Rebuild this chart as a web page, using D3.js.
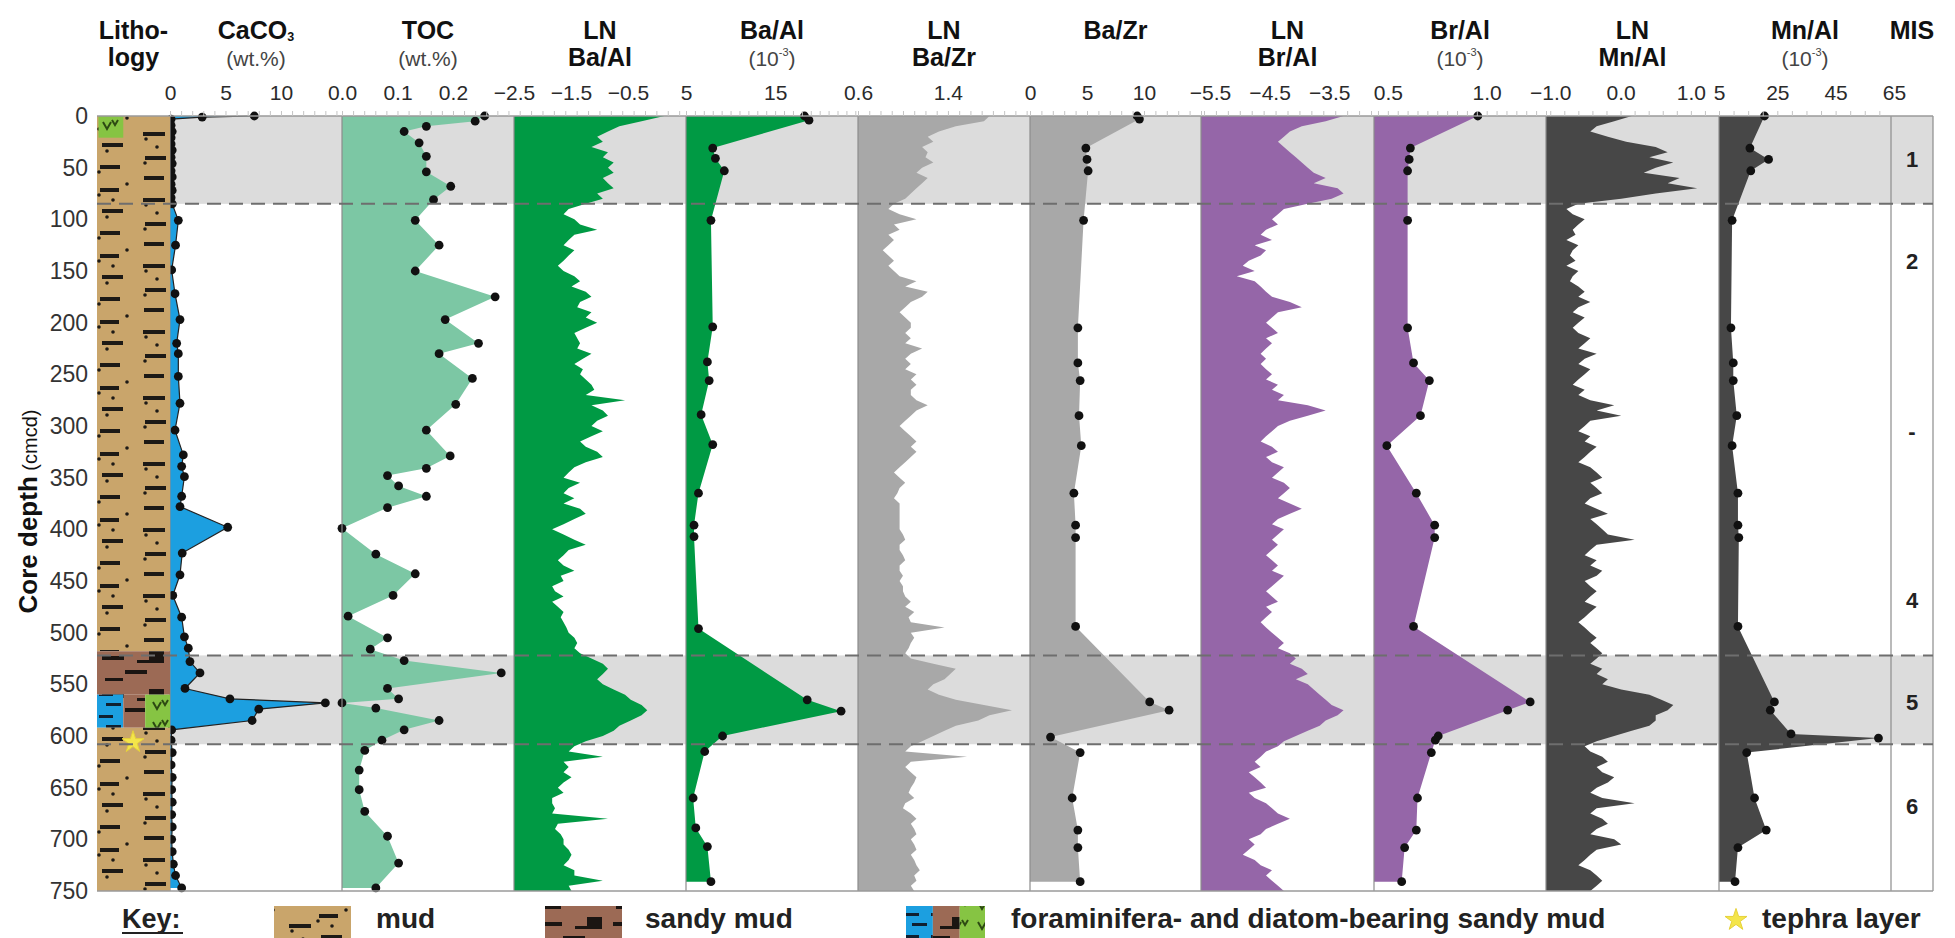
<!DOCTYPE html>
<html><head><meta charset="utf-8">
<script src="https://cdn.jsdelivr.net/npm/d3@7"></script>
<style>
html,body{margin:0;padding:0;background:#fff;}
svg{display:block;font-family:"Liberation Sans",Arial,Helvetica,sans-serif;}
</style></head><body>
<svg id="chart" width="1955" height="938"></svg>
<script>
// ---------- data ----------
// XRF core-scanner profiles, one value every 5 cm (0–750 cmcd)
const scanDepth = d3.range(0, 751, 5);
const lnBaAl = [
 0.14,-0.26,-0.65,-0.85,-1.04,-0.94,-1.14,-0.85,-0.94,-0.75,
 -0.85,-0.75,-0.94,-0.85,-0.75,-1.04,-0.94,-1.24,-1.54,-1.63,
 -1.44,-1.34,-1.04,-1.44,-1.54,-1.63,-1.44,-1.54,-1.63,-1.73,
 -1.63,-1.44,-1.34,-1.49,-1.24,-1.14,-1.34,-1.39,-1.14,-1.24,
 -1.04,-1.24,-1.44,-1.39,-1.34,-1.39,-1.14,-1.29,-1.44,-1.29,
 -1.34,-1.24,-1.14,-1.09,-1.24,-0.55,-1.14,-0.94,-0.85,-1.04,
 -1.14,-0.94,-1.14,-1.34,-1.24,-1.04,-0.94,-1.24,-1.44,-1.54,
 -1.63,-1.34,-1.54,-1.63,-1.44,-1.63,-1.34,-1.24,-1.44,-1.63,
 -1.83,-1.63,-1.44,-1.24,-1.54,-1.63,-1.73,-1.63,-1.44,-1.68,
 -1.63,-1.83,-1.78,-1.63,-1.83,-1.73,-1.63,-1.68,-1.63,-1.58,
 -1.54,-1.44,-1.39,-1.44,-1.34,-1.14,-0.94,-0.85,-0.94,-1.04,
 -0.94,-0.75,-0.55,-0.45,-0.26,-0.16,-0.26,-0.45,-0.65,-0.75,
 -0.94,-1.24,-1.44,-1.54,-0.94,-1.63,-1.54,-1.63,-1.49,-1.63,
 -1.73,-1.63,-1.83,-1.83,-1.78,-1.83,-0.85,-1.73,-1.78,-1.68,
 -1.63,-1.63,-1.54,-1.49,-1.54,-1.63,-1.44,-1.44,-0.94,-1.54,
 -1.49];
const lnBaZr = [
 1.77,1.72,1.47,1.32,1.22,1.27,1.17,1.22,1.20,1.27,
 1.17,1.12,1.22,1.17,1.12,1.07,1.02,0.92,0.87,0.97,
 1.12,0.92,0.97,0.87,0.92,0.87,0.82,0.87,0.92,0.87,
 0.92,0.97,1.12,1.02,1.22,1.17,1.07,1.02,0.97,1.02,
 1.07,1.07,1.02,1.07,1.02,1.17,1.07,1.02,1.07,1.02,
 1.12,1.07,1.12,1.07,1.07,1.12,1.22,1.12,1.07,1.02,
 0.97,1.02,1.07,1.12,1.07,1.12,1.07,1.02,0.97,0.92,
 0.97,1.02,0.97,0.95,0.92,0.97,0.97,0.97,0.97,0.97,
 0.97,1.00,1.02,0.97,0.97,1.00,1.02,0.97,0.97,1.00,
 0.97,1.00,1.00,1.02,1.07,1.02,1.10,1.05,1.07,1.37,
 1.07,1.10,1.07,1.05,1.02,1.07,1.27,1.47,1.42,1.37,
 1.27,1.22,1.32,1.47,1.72,1.97,1.77,1.67,1.47,1.37,
 1.27,1.17,1.07,1.02,1.57,1.07,1.02,1.07,1.12,1.10,
 1.07,1.05,1.10,1.02,1.00,1.07,1.12,1.07,1.10,1.12,
 1.07,1.10,1.12,1.07,1.10,1.12,1.15,1.10,1.12,1.07,
 1.10];
const lnBrAl = [
 -3.26,-3.56,-3.96,-4.16,-4.26,-4.36,-4.26,-4.16,-4.06,-3.96,
 -3.86,-3.76,-3.56,-3.76,-3.36,-3.26,-3.46,-3.86,-4.26,-4.36,
 -4.46,-4.36,-4.56,-4.65,-4.46,-4.75,-4.56,-4.65,-4.85,-4.95,
 -4.75,-5.05,-4.75,-4.65,-4.56,-4.46,-4.16,-3.96,-4.36,-4.46,
 -4.56,-4.46,-4.36,-4.56,-4.46,-4.56,-4.65,-4.56,-4.65,-4.56,
 -4.46,-4.56,-4.36,-4.46,-4.26,-4.36,-3.86,-3.56,-3.86,-4.16,
 -4.36,-4.46,-4.56,-4.65,-4.46,-4.36,-4.56,-4.46,-4.26,-4.36,
 -4.46,-4.26,-4.16,-4.26,-4.36,-4.16,-3.96,-4.16,-4.36,-4.46,
 -4.26,-4.36,-4.46,-4.36,-4.46,-4.56,-4.46,-4.36,-4.46,-4.26,
 -4.36,-4.46,-4.56,-4.46,-4.36,-4.56,-4.46,-4.56,-4.65,-4.56,
 -4.46,-4.36,-4.26,-4.36,-4.16,-4.06,-4.16,-3.96,-3.86,-4.06,
 -3.86,-3.76,-3.66,-3.56,-3.46,-3.26,-3.36,-3.56,-3.66,-3.86,
 -4.06,-4.26,-4.36,-4.56,-4.65,-4.75,-4.65,-4.85,-4.75,-4.65,
 -4.56,-4.85,-4.75,-4.56,-4.46,-4.36,-4.16,-4.36,-4.56,-4.65,
 -4.85,-4.75,-4.85,-4.95,-4.75,-4.65,-4.46,-4.56,-4.46,-4.36,
 -4.26];
const lnMnAl = [
 0.16,-0.09,-0.34,-0.43,-0.18,0.08,0.50,0.67,0.41,0.75,
 0.50,0.33,0.84,0.67,1.09,0.50,0.01,-0.60,-0.77,-0.68,
 -0.51,-0.60,-0.68,-0.64,-0.77,-0.60,-0.68,-0.72,-0.64,-0.77,
 -0.60,-0.68,-0.72,-0.60,-0.51,-0.60,-0.43,-0.60,-0.68,-0.51,
 -0.60,-0.68,-0.60,-0.43,-0.51,-0.60,-0.34,-0.51,-0.60,-0.43,
 -0.51,-0.60,-0.68,-0.51,-0.60,-0.43,-0.09,-0.34,0.01,-0.43,
 -0.51,-0.60,-0.43,-0.51,-0.34,-0.43,-0.51,-0.60,-0.43,-0.34,
 -0.26,-0.43,-0.34,-0.26,-0.43,-0.51,-0.34,-0.18,-0.43,-0.34,
 -0.26,-0.18,0.20,-0.34,-0.43,-0.51,-0.34,-0.43,-0.26,-0.34,
 -0.51,-0.43,-0.34,-0.43,-0.51,-0.34,-0.43,-0.51,-0.60,-0.51,
 -0.43,-0.34,-0.43,-0.34,-0.26,-0.34,-0.43,-0.26,-0.34,-0.18,
 -0.26,0.01,0.41,0.58,0.75,0.67,0.50,0.50,0.41,0.16,
 -0.09,-0.34,-0.51,-0.43,-0.26,-0.18,-0.34,-0.26,-0.09,-0.18,
 -0.34,-0.43,-0.26,0.20,-0.34,-0.43,-0.26,-0.18,-0.34,-0.43,
 -0.09,0.01,-0.34,-0.43,-0.51,-0.60,-0.43,-0.34,-0.26,-0.34,
 -0.43];

// discrete samples: [depth (cmcd), value]
const caco3 = [[0,7.6],[1,2.9],[3,0.1],[9,0.1],[15,0.2],[21,0.1],[27,0.1],[33,0.2],[40,0.1],[46,0.2],
 [53,0.1],[59,0.2],[66,0.1],[72,0.2],[79,0.1],[85,0.2],[101,0.75],[125,0.5],[149,0.15],[172,0.45],
 [197,0.9],[220,0.6],[230,0.75],[252,0.75],[278,0.9],[304,0.45],[328,1.2],[339,1.05],[349,1.3],[368,1.05],
 [378,0.9],[398,5.2],[423,1.1],[444,0.9],[464,0.25],[485,1.05],[504,1.3],[515,1.65],[528,1.8],[539,2.7],
 [554,1.35],[564,5.4],[568,14.0],[574,8.0],[585,7.4],[594,0.15],[604,0.1],[616,0.2],[628,0.1],[640,0.2],
 [652,0.15],[664,0.2],[676,0.15],[688,0.2],[700,0.15],[712,0.2],[724,0.3],[735,0.5],[747,1.05]];
const toc = [[0,0.257],[5,0.240],[10,0.152],[15,0.112],[26,0.139],[39,0.152],[54,0.152],[68,0.196],[81,0.165],
 [101,0.132],[125,0.175],[150,0.132],[175,0.276],[197,0.186],[220,0.246],[230,0.175],[254,0.235],[279,0.205],
 [304,0.152],[329,0.195],[341,0.152],[348,0.082],[358,0.102],[368,0.152],[379,0.082],[399,0.0],[424,0.061],
 [443,0.132],[464,0.092],[484,0.011],[505,0.082],[516,0.051],[527,0.112],[539,0.287],[554,0.082],[564,0.102],
 [568,0.0],[573,0.061],[585,0.175],[594,0.112],[604,0.072],[614,0.041],[633,0.031],[652,0.031],[673,0.041],
 [697,0.082],[723,0.102],[747,0.061]];
const baAl = [[0,18.3],[4,18.8],[31,8.0],[41,8.3],[53,9.3],[101,7.8],[204,8.0],[238,7.4],[256,7.6],[289,6.7],
 [318,8.0],[365,6.4],[396,5.9],[407,5.9],[496,6.4],[565,18.6],[576,22.4],[600,9.1],[615,7.1],[660,5.8],
 [689,6.1],[707,7.4],[741,7.8]];
const baZr = [[0,9.4],[3,9.6],[31,4.9],[42,5.0],[53,5.1],[101,4.7],[205,4.2],[239,4.2],[256,4.4],[290,4.3],
 [319,4.5],[365,3.85],[396,4.0],[408,4.0],[494,4.0],[567,10.5],[575,12.2],[601,1.8],[616,4.4],[660,3.7],
 [691,4.2],[708,4.2],[741,4.4]];
const brAl = [[0,0.955],[31,0.614],[42,0.608],[53,0.60],[101,0.60],[205,0.60],[239,0.63],[256,0.71],[290,0.665],
 [319,0.495],[365,0.644],[396,0.737],[408,0.737],[494,0.63],[567,1.22],[575,1.106],[600,0.755],[604,0.74],
 [616,0.72],[660,0.65],[691,0.644],[708,0.585],[741,0.57]];
const mnAl = [[0,20.6],[31,15.6],[42,22.0],[53,15.9],[101,9.5],[205,9.1],[239,9.9],[256,9.9],[290,11.1],
 [319,9.5],[365,11.5],[396,11.5],[408,11.8],[494,11.5],[567,24.0],[575,22.6],[598,29.7],[602,59.7],[616,14.5],
 [660,17.2],[691,21.2],[708,11.5],[741,10.5]];

// tick labels of each panel
const ticksCaCO3 = [0, 5, 10];
const ticksTOC = [0.0, 0.1, 0.2];
const ticksLnBaAl = [-2.5, -1.5, -0.5];
const ticksBaAl = [5, 15];
const ticksLnBaZr = [0.6, 1.4];
const ticksBaZr = [0, 5, 10];
const ticksLnBrAl = [-5.5, -4.5, -3.5];
const ticksBrAl = [0.5, 1.0];
const ticksLnMnAl = [-1.0, 0.0, 1.0];
const ticksMnAl = [5, 25, 45, 65];
const depthTicks = d3.range(0, 751, 50);

// marine isotope stages and shaded intervals (cmcd)
const misLabels = [["1", 42], ["2", 140], ["-", 305], ["4", 468], ["5", 567], ["6", 668]];
const shadedIntervals = [[0, 85], [522, 608]];
const boundaries = [85, 522, 608];

// lithology units: [top, bottom, type, left fraction, right fraction]
const lithoUnits = [
 [0, 518, "mud", 0, 1],
 [0, 21, "diatom", 0.02, 0.36],
 [518, 560, "sandy", 0, 1],
 [560, 592, "foram", 0, 0.36],
 [560, 592, "sandy", 0.36, 0.66],
 [560, 592, "diatom", 0.66, 1],
 [592, 750, "mud", 0, 1]
];
const tephraDepth = 606;

// ---------- layout ----------
const svg = d3.select("#chart");
const y = d3.scaleLinear().domain([0, 750]).range([116, 891]);
const LITHO = [97, 170];
const RIGHT = 1933;

const C = {
  tan: "#c9a56b", brown: "#9c6a55", blue: "#1c9fe0", diatom: "#86c443",
  toc: "#7cc7a4", green: "#009a44", grey: "#a8a8a8", purple: "#9566a8",
  dark: "#474747", band: "#dcdcdc"
};

const panels = [
 {x0:170, x1:342, domain:[0,15.5], ticks:ticksCaCO3, fmt:d3.format("d"), color:C.blue, pts:caco3,
  t1:["CaCO", "3"], t2:"(wt.%)"},
 {x0:342, x1:514, domain:[0,0.31], ticks:ticksTOC, fmt:d3.format(".1f"), color:C.toc, pts:toc,
  t1:["TOC"], t2:"(wt.%)"},
 {x0:514, x1:686, domain:[-2.5,0.52], ticks:ticksLnBaAl, fmt:d3.format(".1f"), color:C.green, scan:lnBaAl,
  t1:["LN"], t2b:"Ba/Al"},
 {x0:686, x1:858, domain:[5,24.3], ticks:ticksBaAl, fmt:d3.format("d"), color:C.green, pts:baAl,
  t1:["Ba/Al"], t2:"exp"},
 {x0:858, x1:1030, domain:[0.6,2.13], ticks:ticksLnBaZr, fmt:d3.format(".1f"), color:C.grey, scan:lnBaZr,
  t1:["LN"], t2b:"Ba/Zr"},
 {x0:1030, x1:1201, domain:[0,15], ticks:ticksBaZr, fmt:d3.format("d"), color:C.grey, pts:baZr,
  t1:["Ba/Zr"]},
 {x0:1201, x1:1374, domain:[-5.65,-2.75], ticks:ticksLnBrAl, fmt:d3.format(".1f"), color:C.purple, scan:lnBrAl,
  t1:["LN"], t2b:"Br/Al"},
 {x0:1374, x1:1546, domain:[0.43,1.30], ticks:ticksBrAl, fmt:d3.format(".1f"), color:C.purple, pts:brAl,
  t1:["Br/Al"], t2:"exp"},
 {x0:1546, x1:1719, domain:[-1.06,1.40], ticks:ticksLnMnAl, fmt:d3.format(".1f"), color:C.dark, scan:lnMnAl,
  t1:["LN"], t2b:"Mn/Al"},
 {x0:1719, x1:1891, domain:[5,64], ticks:ticksMnAl, fmt:d3.format("d"), color:C.dark, pts:mnAl,
  t1:["Mn/Al"], t2:"exp"}
];
panels.forEach(p => { p.x = d3.scaleLinear().domain(p.domain).range([p.x0, p.x1]); });

// ---------- patterns ----------
const defs = svg.append("defs");
function dashes(pat, list, fill) {
  list.forEach(([x, yy, w, h]) => pat.append("rect").attr("x", x).attr("y", yy).attr("width", w).attr("height", h).attr("fill", fill));
}
function dots(pat, list, fill) {
  list.forEach(([x, yy]) => pat.append("circle").attr("cx", x).attr("cy", yy).attr("r", 1.8).attr("fill", fill));
}
const pMud = defs.append("pattern").attr("id", "pat-mud").attr("patternUnits", "userSpaceOnUse")
  .attr("x", 97).attr("y", 116).attr("width", 73).attr("height", 66);
pMud.append("rect").attr("width", 73).attr("height", 66).attr("fill", C.tan);
dashes(pMud, [[3,6,19,4],[5,27,21,4],[3,49,20,4],[46,16,22,4],[48,40,21,4],[47,60,20,4]], "#1d1a16");
dots(pMud, [[2,13],[10,35],[2,56],[49,23],[48,47],[30,2],[60,31],[16,18]], "#1d1a16");

const pSandy = defs.append("pattern").attr("id", "pat-sandy").attr("patternUnits", "userSpaceOnUse")
  .attr("x", 97).attr("y", 116).attr("width", 73).attr("height", 38);
pSandy.append("rect").attr("width", 73).attr("height", 38).attr("fill", C.brown);
dashes(pSandy, [[5,8,22,4],[28,22,22,4],[8,30,18,3],[52,3,15,12],[40,12,12,3]], "#1b1512");

const pForam = defs.append("pattern").attr("id", "pat-foram").attr("patternUnits", "userSpaceOnUse")
  .attr("x", 97).attr("y", 116).attr("width", 26).attr("height", 22);
pForam.append("rect").attr("width", 26).attr("height", 22).attr("fill", C.blue);
dashes(pForam, [[2,5,14,3],[9,15,15,3]], "#102030");

const pDiatom = defs.append("pattern").attr("id", "pat-diatom").attr("patternUnits", "userSpaceOnUse")
  .attr("x", 97).attr("y", 116).attr("width", 25).attr("height", 20);
pDiatom.append("rect").attr("width", 25).attr("height", 20).attr("fill", C.diatom);
pDiatom.append("path").attr("d", "M6,6 L10,13 L14,6 M15,4 L18,9 L21,4").attr("fill", "none")
  .attr("stroke", "#2d4a12").attr("stroke-width", 2);

const patFor = {mud: "url(#pat-mud)", sandy: "url(#pat-sandy)", foram: "url(#pat-foram)", diatom: "url(#pat-diatom)"};

// ---------- shaded intervals ----------
svg.append("g").selectAll("rect").data(shadedIntervals).join("rect")
  .attr("x", LITHO[1]).attr("width", RIGHT - LITHO[1])
  .attr("y", d => y(d[0])).attr("height", d => y(d[1]) - y(d[0]))
  .attr("fill", C.band);

// ---------- profiles ----------
const gPlots = svg.append("g");
panels.forEach(p => {
  const data = p.scan ? scanDepth.map((d, i) => [d, p.scan[i]]) : p.pts;
  const area = d3.area().y(d => y(d[0])).x0(p.x(p.domain[0])).x1(d => p.x(d[1]));
  gPlots.append("path").datum(data).attr("d", area).attr("fill", p.color);
  if (p.pts) {
    if (p.pts === caco3) {
      gPlots.append("path").datum(data).attr("fill", "none").attr("stroke", "#222").attr("stroke-width", 1.2)
        .attr("d", d3.line().y(d => y(d[0])).x(d => p.x(d[1])));
    }
    gPlots.append("g").selectAll("circle").data(data).join("circle")
      .attr("cx", d => p.x(d[1])).attr("cy", d => y(d[0])).attr("r", 4.4).attr("fill", "#111");
  }
});

// panel frame lines
const frameXs = panels.map(p => p.x0).concat([1891, RIGHT]);
svg.append("g").selectAll("line").data(frameXs).join("line")
  .attr("x1", d => d).attr("x2", d => d).attr("y1", y(0)).attr("y2", y(750))
  .attr("stroke", "#8c8c8c").attr("stroke-width", 1.2);

// ---------- lithology column ----------
const lw = LITHO[1] - LITHO[0];
svg.append("g").selectAll("rect").data(lithoUnits).join("rect")
  .attr("x", d => LITHO[0] + d[3] * lw).attr("width", d => (d[4] - d[3]) * lw)
  .attr("y", d => y(d[0])).attr("height", d => y(d[1]) - y(d[0]))
  .attr("fill", d => patFor[d[2]]);
const star = d3.symbol().type(d3.symbolStar).size(150);
svg.append("path").attr("d", star()).attr("transform", `translate(133,${y(tephraDepth)})`)
  .attr("fill", "#f4e54a").attr("stroke", "#e6d23a").attr("stroke-width", 1);

// ---------- boundaries ----------
svg.append("g").selectAll("line").data(boundaries).join("line")
  .attr("x1", LITHO[0]).attr("x2", RIGHT).attr("y1", d => y(d)).attr("y2", d => y(d))
  .attr("stroke", "#6e6e6e").attr("stroke-width", 2).attr("stroke-dasharray", "14,8");

// top & bottom lines
[0, 750].forEach(v => svg.append("line").attr("x1", LITHO[0]).attr("x2", RIGHT)
  .attr("y1", y(v)).attr("y2", y(v)).attr("stroke", "#9a9a9a").attr("stroke-width", 1.5));

// ---------- top axes ----------
panels.forEach(p => {
  const minor = svg.append("g").attr("transform", `translate(0,${y(0)})`)
    .call(d3.axisTop(p.x).tickValues(p.x.ticks(16)).tickSize(5).tickFormat(""));
  minor.select(".domain").remove();
  minor.selectAll("line").attr("stroke", "#c4c4c4");
  const ax = svg.append("g").attr("transform", `translate(0,${y(0)})`)
    .call(d3.axisTop(p.x).tickValues(p.ticks).tickSize(0).tickPadding(16).tickFormat(p.fmt));
  ax.select(".domain").remove();
  ax.selectAll("text").attr("font-size", 21).attr("fill", "#2a2a2a").attr("font-family", null);
});

// depth axis
const ly = svg.append("g").attr("transform", `translate(${LITHO[0]},0)`)
  .call(d3.axisLeft(y).tickValues(depthTicks).tickSize(0).tickPadding(9));
ly.select(".domain").remove();
ly.selectAll("text").attr("font-size", 23).attr("fill", "#333").attr("font-family", null);

const yl = svg.append("text").attr("transform", `translate(37,${(y(0) + y(750)) / 2 + 8}) rotate(-90)`)
  .attr("text-anchor", "middle").attr("fill", "#111");
yl.append("tspan").attr("font-size", 26).attr("font-weight", "bold").text("Core depth");
yl.append("tspan").attr("font-size", 20).text(" (cmcd)");

// ---------- titles ----------
const T1 = 39, T2 = 66;
const TS = 25;
function title(cx, lines) {
  lines.forEach(([txt, base, bold, size, sub]) => {
    const t = svg.append("text").attr("x", cx).attr("y", base).attr("text-anchor", "middle")
      .attr("font-size", size).attr("font-weight", bold ? "bold" : "normal").attr("fill", bold ? "#111" : "#444");
    t.append("tspan").text(txt);
    if (sub === "sub") t.append("tspan").attr("font-size", size * 0.5).attr("dy", 2).text("3");
  });
}
function tenExp(cx) {
  const t = svg.append("text").attr("x", cx).attr("y", T2).attr("text-anchor", "middle")
    .attr("font-size", 21).attr("fill", "#444");
  t.append("tspan").text("(10");
  t.append("tspan").attr("font-size", 11).attr("dy", -10).text("-3");
  t.append("tspan").attr("dy", 10).text(")");
}
title((LITHO[0] + LITHO[1]) / 2, [["Litho-", T1, true, TS], ["logy", T2, true, TS]]);
panels.forEach(p => {
  const cx = (p.x0 + p.x1) / 2;
  if (p.t1.length === 2) title(cx, [[p.t1[0], T1, true, TS, "sub"]]);
  else title(cx, [[p.t1[0], T1, true, TS]]);
  if (p.t2b) title(cx, [[p.t2b, T2, true, TS]]);
  if (p.t2 === "exp") tenExp(cx);
  else if (p.t2) title(cx, [[p.t2, T2, false, 21]]);
});
title(1912, [["MIS", T1, true, TS]]);

// MIS numbers
svg.append("g").selectAll("text").data(misLabels).join("text")
  .attr("x", 1912).attr("y", d => y(d[1]) + 8).attr("text-anchor", "middle")
  .attr("font-size", 22).attr("font-weight", "bold").attr("fill", "#222").text(d => d[0]);

// ---------- key ----------
const KY = 928;
svg.append("text").attr("x", 122).attr("y", KY).attr("font-size", 27).attr("font-weight", "bold")
  .attr("fill", "#222").text("Key:");
svg.append("line").attr("x1", 122).attr("x2", 183).attr("y1", KY + 5).attr("y2", KY + 5)
  .attr("stroke", "#222").attr("stroke-width", 2);
const keyItems = [
  {x: 274, w: 77, parts: [["mud", 0, 1]], label: "mud", lx: 376},
  {x: 545, w: 77, parts: [["sandy", 0, 1]], label: "sandy mud", lx: 645},
  {x: 906, w: 79, parts: [["foram", 0, 0.34], ["sandy", 0.34, 0.68], ["diatom", 0.68, 1]],
   label: "foraminifera- and diatom-bearing sandy mud", lx: 1011}
];
keyItems.forEach(k => {
  k.parts.forEach(([type, a, b]) => svg.append("rect").attr("x", k.x + a * k.w).attr("width", (b - a) * k.w)
    .attr("y", 906).attr("height", 32).attr("fill", patFor[type]));
  svg.append("text").attr("x", k.lx).attr("y", KY).attr("font-size", 28).attr("font-weight", "bold")
    .attr("fill", "#222").text(k.label);
});
svg.append("path").attr("d", star()).attr("transform", `translate(1736,${KY - 8})`)
  .attr("fill", "#f4e54a").attr("stroke", "#e6d23a");
svg.append("text").attr("x", 1762).attr("y", KY).attr("font-size", 28).attr("font-weight", "bold")
  .attr("fill", "#222").text("tephra layer");
</script>
</body></html>
